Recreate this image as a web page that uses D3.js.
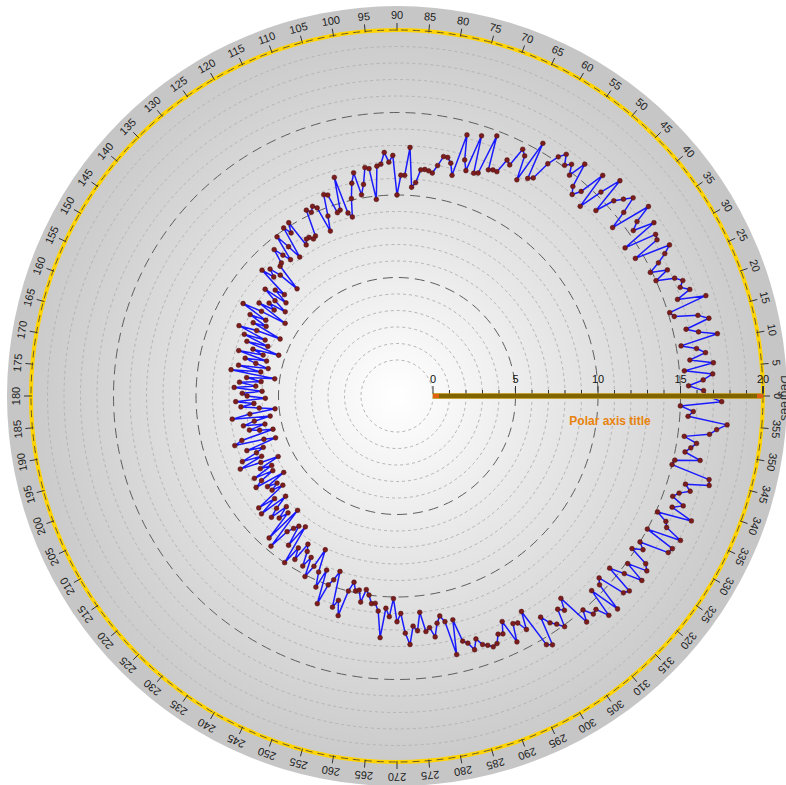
<!DOCTYPE html>
<html>
<head>
<meta charset="utf-8">
<script src="https://cdn.jsdelivr.net/npm/d3@7/dist/d3.min.js"></script>
<style>
  html, body { margin: 0; padding: 0; background: #ffffff; }
  svg { display: block; }
  text { font-family: "Liberation Sans", Arial, sans-serif; }
</style>
</head>
<body>
<svg id="chart" width="786" height="785"></svg>
<script>
// ---------------- DATA ----------------
// one value per degree, angle = index (degrees, counter-clockwise from 3 o'clock)
const valuesQ1 = [ // 0..89
  16.6,16.4,15.5,16.4,17.0,15.3,17.1,15.7,16.7,16.2,
  15.3,17.6,16.5,15.8,17.3,16.7,15.3,15.1,17.5,15.8,
  16.7,16.2,16.5,16.1,15.0,15.9,14.9,15.6,16.2,16.7,
  14.5,16.2,16.3,14.3,16.6,15.3,15.8,16.9,14.4,15.5,
  16.5,16.0,15.5,14.3,16.6,15.3,13.8,16.1,14.5,14.0,
  14.4,15.9,14.8,15.4,15.1,15.7,15.3,14.6,13.4,13.2,
  15.5,12.8,14.3,14.6,13.4,13.6,12.7,12.7,12.6,14.7,
  12.2,12.1,14.4,12.1,12.7,14.2,11.6,12.3,12.6,12.6,
  12.0,11.5,11.6,11.65,11.6,10.8,10.5,12.9,11.2,11.2
];
const valuesQ2 = [ // 90..179
  10.0,12.4,12.0,12.6,11.9,11.8,9.8,11.7,11.8,10.8,
  10.2,11.6,11.0,10.1,9.0,9.3,11.6,9.6,9.5,10.7,
  10.8,9.5,8.6,10.2,10.4,10.1,10.35,8.7,8.6,8.8,
  8.8,8.5,10.2,9.6,10.1,8.1,9.0,9.9,8.3,8.8,
  9.4,8.5,8.4,6.7,8.0,8.7,8.2,9.0,7.0,7.6,
  6.6,8.1,7.2,6.3,7.4,6.9,7.9,5.9,7.5,8.7,
  7.0,8.0,6.8,7.6,5.7,7.2,8.3,6.5,7.8,6.2,
  7.5,5.4,7.0,6.3,7.8,6.0,7.3,6.6,5.8,7.6,
  6.2,8.0,5.3,7.0,6.1,7.4,6.4,7.7,6.0,7.2
];
const valuesQ3 = [ // 180..269
  6.9,5.8,7.6,6.5,7.3,6.2,5.25,6.8,7.9,5.6,
  6.6,7.3,6.0,7.0,6.4,5.6,7.6,8.1,6.3,5.6,
  7.5,6.5,7.0,8.0,6.8,8.3,7.0,5.9,7.2,6.5,
  7.8,6.6,7.5,8.0,6.1,7.4,6.8,7.3,6.6,8.6,
  7.5,8.7,6.9,7.8,8.4,7.3,8.1,7.5,9.4,7.0,
  9.7,8.4,8.0,7.7,9.0,7.5,10.0,8.8,9.5,8.3,
  8.7,9.6,8.9,10.1,9.3,8.1,9.5,10.4,9.2,11.3,
  10.0,9.6,9.0,11.2,10.7,11.6,10.0,9.4,9.9,9.8,
  10.5,9.7,10.0,10.5,10.45,10.9,12.5,10.7,11.2,10.1
];
const valuesQ4 = [ // 270..359
  11.5,11.0,12.2,12.9,11.8,12.1,11.0,12.2,12.0,12.6,
  11.8,11.4,11.8,13.9,11.8,13.2,13.4,13.9,13.3,13.75,
  13.9,14.1,14.0,13.5,13.6,12.9,14.4,13.3,13.4,14.0,
  12.9,15.4,15.6,13.8,14.4,14.7,15.1,14.0,14.3,13.6,
  15.7,15.0,15.6,15.5,16.3,14.5,16.4,14.6,14.3,16.0,
  16.2,14.4,15.3,16.4,15.1,16.3,16.0,14.8,15.4,15.0,
  16.8,16.9,15.0,17.1,16.0,15.8,15.1,17.2,15.8,16.4,
  15.6,15.9,16.5,16.1,17.5,17.4,15.0,15.1,16.6,15.6,
  15.9,16.2,15.4,16.9,17.3,17.9,15.5,15.8,15.0,17.5
];
const seriesValues = [...valuesQ1, ...valuesQ2, ...valuesQ3, ...valuesQ4];
const seriesAngles = d3.range(0, 360, 1);
const angleTickLabels = d3.range(0, 360, 5);
const radialTickLabels = [0, 5, 10, 15, 20];
const radialMinorTicks = d3.range(0, 21, 1);
const gridValues = d3.range(0, 20, 1);
const radialAxisTitle = "Polar axis title";
const angleAxisTitle = "Degrees";

// ---------------- LAYOUT ----------------
const cx = 397, cy = 396;
const svg = d3.select("#chart");
const rScale = d3.scaleLinear().domain([0, 20]).range([36, 366]);
const aScale = d3.scaleLinear().domain([0, 360]).range([0, 2 * Math.PI]);
const px = (deg, rad) => cx + rad * Math.cos(aScale(deg));
const py = (deg, rad) => cy - rad * Math.sin(aScale(deg));

const defs = svg.append("defs");
const grad = defs.append("radialGradient").attr("id", "bg")
  .attr("cx", "50%").attr("cy", "50%").attr("r", "50%");
grad.append("stop").attr("offset", "0%").attr("stop-color", "#ffffff");
grad.append("stop").attr("offset", "45%").attr("stop-color", "#e6e6e6");
grad.append("stop").attr("offset", "100%").attr("stop-color", "#cbcbcb");

// outer band
svg.append("circle").attr("cx", cx).attr("cy", cy).attr("r", 390).attr("fill", "#c6c6c6");
// plot area
svg.append("circle").attr("cx", cx).attr("cy", cy).attr("r", rScale(20)).attr("fill", "url(#bg)");

// grid circles
const g = svg.append("g");
g.selectAll("circle.grid").data(gridValues).join("circle")
  .attr("cx", cx).attr("cy", cy)
  .attr("r", d => rScale(d))
  .attr("fill", "none")
  .attr("stroke", d => (d % 5 === 0 && d > 0) ? "#5e5e5e" : "#b4b4b4")
  .attr("stroke-width", 1)
  .attr("stroke-dasharray", d => (d % 5 === 0 && d > 0) ? "10,6" : "3,3");

// outer yellow circle
svg.append("circle").attr("cx", cx).attr("cy", cy).attr("r", rScale(20))
  .attr("fill", "none").attr("stroke", "#ffd400").attr("stroke-width", 4);
svg.append("circle").attr("cx", cx).attr("cy", cy).attr("r", rScale(20))
  .attr("fill", "none").attr("stroke", "#6a5a30").attr("stroke-width", 1)
  .attr("stroke-dasharray", "7,5");

// angular ticks & labels
const at = svg.append("g");
at.selectAll("line").data(angleTickLabels).join("line")
  .attr("x1", d => px(d, rScale(20) - 1)).attr("y1", d => py(d, rScale(20) - 1))
  .attr("x2", d => px(d, rScale(20) + 7)).attr("y2", d => py(d, rScale(20) + 7))
  .attr("stroke", "#333").attr("stroke-width", 1);
at.selectAll("text").data(angleTickLabels).join("text")
  .attr("transform", d => `translate(${px(d, 381)},${py(d, 381)}) rotate(${90 - d})`)
  .attr("text-anchor", "middle").attr("dominant-baseline", "central")
  .attr("font-size", 11).attr("fill", "#222")
  .text(d => d);

svg.append("text")
  .attr("transform", `translate(781,398) rotate(90)`)
  .attr("text-anchor", "middle").attr("font-size", 12).attr("fill", "#333")
  .text(angleAxisTitle);

// data series
const lineGen = d3.lineRadial()
  .angle(d => Math.PI / 2 - aScale(d[0]))
  .radius(d => rScale(d[1]))
  .curve(d3.curveLinearClosed);
const pts = seriesAngles.map((a, i) => [a, seriesValues[i]]);
const series = svg.append("g").attr("transform", `translate(${cx},${cy})`);
series.append("path").datum(pts).attr("d", lineGen)
  .attr("fill", "none").attr("stroke", "#1a1aff").attr("stroke-width", 1.5)
  .attr("stroke-linejoin", "round");
series.selectAll("circle").data(pts).join("circle")
  .attr("cx", d => rScale(d[1]) * Math.cos(aScale(d[0])))
  .attr("cy", d => -rScale(d[1]) * Math.sin(aScale(d[0])))
  .attr("r", 2.4).attr("fill", "#7c1c1c").attr("stroke", "#4a1010").attr("stroke-width", 0.5);

// radial axis
const ax = svg.append("g");
ax.append("rect")
  .attr("x", rScale(0) + cx).attr("y", cy - 2.5)
  .attr("width", rScale(20) - rScale(0)).attr("height", 5)
  .attr("fill", "#7f6400").attr("stroke", "#c9a227").attr("stroke-width", 0.8);
ax.selectAll("line.minor").data(radialMinorTicks).join("line")
  .attr("x1", d => cx + rScale(d)).attr("x2", d => cx + rScale(d))
  .attr("y1", cy - 2.5).attr("y2", d => cy - (d % 5 === 0 ? 10 : 6))
  .attr("stroke", "#333").attr("stroke-width", d => d === 20 ? 2 : 1);
ax.selectAll("rect.end").data([0, 20]).join("rect")
  .attr("x", d => cx + rScale(d) - (d === 0 ? 0 : 6)).attr("y", cy - 2)
  .attr("width", 6).attr("height", 4)
  .attr("fill", "#e06010");
ax.selectAll("text").data(radialTickLabels).join("text")
  .attr("x", d => cx + rScale(d)).attr("y", cy - 13)
  .attr("text-anchor", "middle").attr("font-size", 11).attr("fill", "#111")
  .text(d => d);
svg.append("text").attr("x", 610).attr("y", 425)
  .attr("text-anchor", "middle").attr("font-size", 12).attr("font-weight", "bold")
  .attr("fill", "#e8820c").text(radialAxisTitle);
</script>
</body>
</html>
